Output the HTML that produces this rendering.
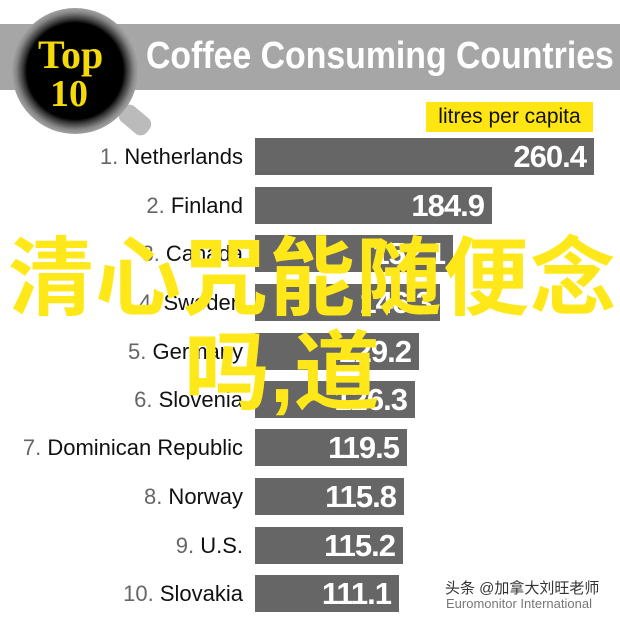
<!DOCTYPE html>
<html><head><meta charset="utf-8"><style>
body{margin:0;width:620px;height:620px;background:#fff;position:relative;overflow:hidden;font-family:"Liberation Sans","Noto Sans CJK SC",sans-serif}
.a{position:absolute}
.bar{position:absolute;left:255px;height:37px;background:#666;color:#fff;font-weight:bold;font-size:31px;text-align:right;line-height:38px;box-sizing:border-box;padding-right:8px;letter-spacing:-1px}
.lab{position:absolute;right:377px;height:37px;line-height:37px;font-size:22px;color:#111;white-space:nowrap}
.lab span{color:#666}
.cn{position:absolute;color:#ffe81a;font-family:"Noto Sans CJK SC",sans-serif;font-weight:bold;font-size:86px;line-height:86px;white-space:nowrap}
</style></head><body>
<div class="a" style="left:0;top:24px;width:620px;height:66px;background:#a6a6a6"></div>
<div class="a" style="left:146px;top:30px;color:#fff;font-weight:bold;font-size:38px;line-height:52px;white-space:nowrap;transform:scaleX(0.89);transform-origin:left">Coffee Consuming Countries</div>
<div class="a" style="left:118px;top:110px;width:34px;height:20px;background:#bbb;border-radius:8px;transform:rotate(40deg)"></div>
<div class="a" style="left:12px;top:8px;width:126px;height:126px;border-radius:50%;background:radial-gradient(circle,#000 0 54%,#333 58%,#888 66%,#aaa 72%,#777 100%)"></div>
<div class="a" style="left:38px;top:35px;color:#f5d90a;font-family:'Liberation Serif',serif;font-weight:bold;font-size:40px;line-height:40px">Top</div>
<div class="a" style="left:50px;top:76px;color:#f5d90a;font-family:'Liberation Serif',serif;font-weight:bold;font-size:38px;line-height:36px">10</div>
<div class="a" style="left:426px;top:102px;width:167px;height:30px;background:#ffe512;font-size:21px;line-height:30px;text-align:center;color:#111">litres per capita</div>

<div class="bar" style="top:138px;width:339px">260.4</div><div class="lab" style="top:138px"><span>1.</span> Netherlands</div>
<div class="bar" style="top:187px;width:237px">184.9</div><div class="lab" style="top:187px"><span>2.</span> Finland</div>
<div class="bar" style="top:235px;width:198px">152.1</div><div class="lab" style="top:235px"><span>3.</span> Canada</div>
<div class="bar" style="top:284px;width:185px">146.3</div><div class="lab" style="top:284px"><span>4.</span> Sweden</div>
<div class="bar" style="top:333px;width:164px">129.2</div><div class="lab" style="top:333px"><span>5.</span> Germany</div>
<div class="bar" style="top:381px;width:160px">126.3</div><div class="lab" style="top:381px"><span>6.</span> Slovenia</div>
<div class="bar" style="top:429px;width:152px">119.5</div><div class="lab" style="top:429px"><span>7.</span> Dominican Republic</div>
<div class="bar" style="top:478px;width:149px">115.8</div><div class="lab" style="top:478px"><span>8.</span> Norway</div>
<div class="bar" style="top:527px;width:148px">115.2</div><div class="lab" style="top:527px"><span>9.</span> U.S.</div>
<div class="bar" style="top:575px;width:144px">111.1</div><div class="lab" style="top:575px"><span>10.</span> Slovakia</div>

<div class="cn" style="left:8px;top:228px;letter-spacing:1px">清心咒能随便念</div>
<div class="cn" style="left:184px;top:322px">吗<span style="font-family:'Liberation Sans',sans-serif">,</span>道</div>

<div class="a" style="left:445px;top:580px;font-size:15px;color:#333;white-space:nowrap;line-height:18px">头条 @加拿大刘旺老师</div>
<div class="a" style="left:446px;top:597px;font-size:13px;color:#777;white-space:nowrap;line-height:14px">Euromonitor International</div>
</body></html>
